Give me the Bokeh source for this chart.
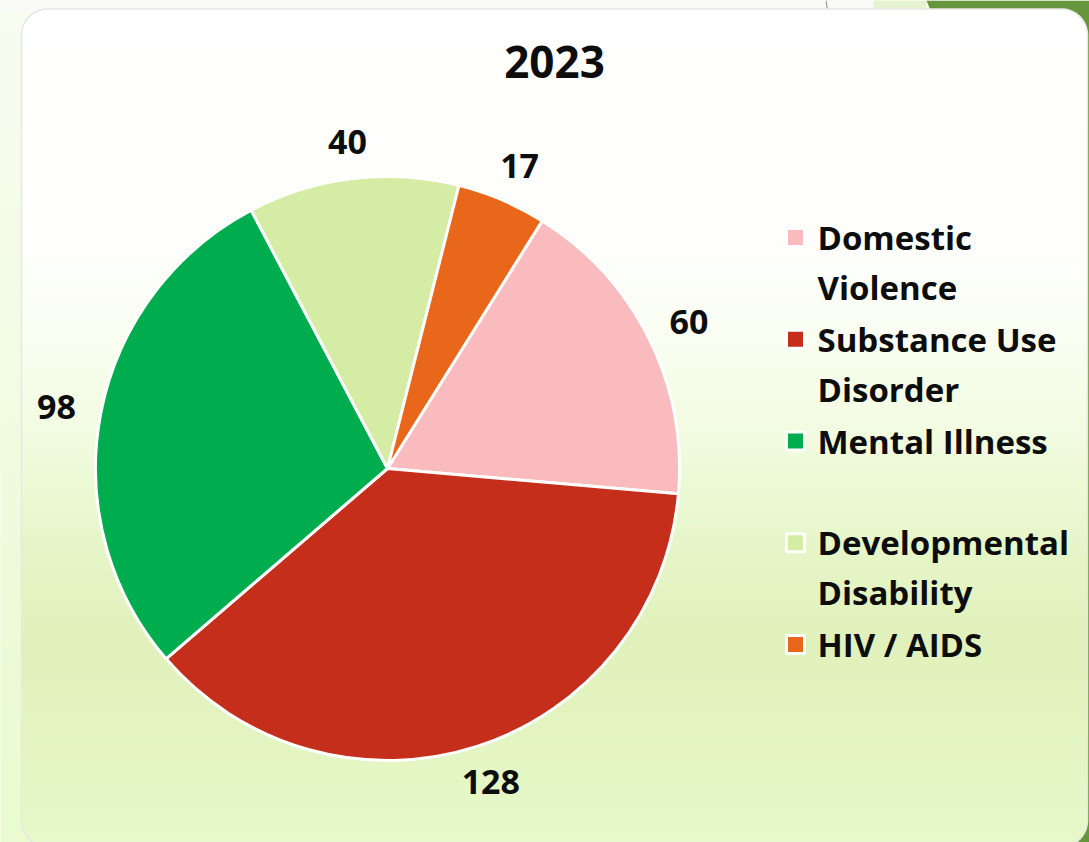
import math
import numpy as np
from bokeh.plotting import figure
from bokeh.models import Range1d, ColumnDataSource
from bokeh.core.properties import value
from bokeh.embed import file_html
from bokeh.resources import INLINE

# ---------------- data ----------------
title_text = "2023"
categories = ["Domestic Violence", "Substance Use Disorder", "Mental Illness",
              "Developmental Disability", "HIV / AIDS"]
counts = [60, 128, 98, 40, 17]
legend_lines = [["Domestic", "Violence"], ["Substance Use", "Disorder"],
                ["Mental Illness"], ["Developmental", "Disability"], ["HIV / AIDS"]]
colors = ["#fabbbf", "#c42e1a", "#00ad4e", "#d5eca4", "#e9671a"]

# ---------------- layout ----------------
W, H = 1089, 842
REF_H = 842
FONT = "Open Sans"
TXT = "#0d0d0d"


def Y(ry):
    return REF_H - ry


p = figure(width=W, height=H, x_range=Range1d(0, W), y_range=Range1d(0, H),
           output_backend="svg", toolbar_location=None, min_border=0)
p.axis.visible = False
p.grid.visible = False
p.outline_line_color = None
p.background_fill_color = "#eefcdc"
p.border_fill_color = "#eefcdc"


def hex2rgb(h):
    h = h.lstrip("#")
    return [int(h[i:i + 2], 16) for i in (0, 2, 4)]


def grad(stops, ry):
    ys = [s[0] for s in stops]
    if ry <= ys[0]:
        return stops[0][1]
    if ry >= ys[-1]:
        return stops[-1][1]
    for (y0, c0), (y1, c1) in zip(stops[:-1], stops[1:]):
        if y0 <= ry <= y1:
            t = (ry - y0) / (y1 - y0)
            a, b = hex2rgb(c0), hex2rgb(c1)
            c = [round(a[i] + (b[i] - a[i]) * t) for i in range(3)]
            return "#%02x%02x%02x" % tuple(c)


# outside background gradient
out_stops = [(0, "#f8fcf2"), (842, "#e9fbcf")]
ob = dict(left=[], right=[], top=[], bottom=[], color=[])
for ry in range(0, 846, 3):
    ob["left"].append(0); ob["right"].append(1100)
    ob["top"].append(Y(ry)); ob["bottom"].append(Y(ry + 3.6))
    ob["color"].append(grad(out_stops, ry + 1.5))
p.quad(source=ColumnDataSource(ob), left="left", right="right", top="top",
       bottom="bottom", fill_color="color", line_color=None)

# top decoration (behind card)
p.quad(left=[0], right=[873], top=[Y(0)], bottom=[Y(10)], fill_color="#fafaf8", line_color=None)
p.quad(left=[873], right=[926], top=[Y(0)], bottom=[Y(10)], fill_color="#e5f3d0", line_color=None)
p.patch(x=[926, 1089, 1089, 1070, 930], y=[Y(0), Y(0), Y(842), Y(842), Y(10)],
        fill_color="#66963c", line_color=None)
p.line(x=[825.5, 827], y=[Y(0), Y(10)], line_color="#9a9a9a", line_width=1.2)

# card with vertical gradient and rounded corners
card_l, card_r, card_t, card_b, rad = 21, 1087, 8.5, 846, 26
card_stops = [(8, "#ffffff"), (250, "#fefffc"), (330, "#fafef2"), (420, "#f3fce3"),
              (500, "#eaf9d2"), (560, "#e5f5c6"), (640, "#e1f1bc"), (700, "#e2f3bf"),
              (842, "#e7f9ca")]
cb = dict(left=[], right=[], top=[], bottom=[], color=[])
step = 2
ry = card_t
while ry < card_b:
    mid = ry + step / 2
    inset = 0.0
    if mid < card_t + rad:
        dy = card_t + rad - mid
        inset = rad - math.sqrt(max(rad * rad - dy * dy, 0))
    elif mid > card_b - rad:
        dy = mid - (card_b - rad)
        inset = rad - math.sqrt(max(rad * rad - dy * dy, 0))
    cb["left"].append(card_l + inset); cb["right"].append(card_r - inset)
    cb["top"].append(Y(ry)); cb["bottom"].append(Y(ry + step + 0.6))
    cb["color"].append(grad(card_stops, mid))
    ry += step
p.quad(source=ColumnDataSource(cb), left="left", right="right", top="top",
       bottom="bottom", fill_color="color", line_color=None)

# card outline
px, py = [], []
corners = [(card_r - rad, card_t + rad, -90, 0), (card_r - rad, card_b - rad, 0, 90),
           (card_l + rad, card_b - rad, 90, 180), (card_l + rad, card_t + rad, 180, 270)]
for (ccx, ccy, a0, a1) in corners:
    for a in np.linspace(a0, a1, 20):
        px.append(ccx + rad * math.cos(math.radians(a)))
        py.append(Y(ccy + rad * math.sin(math.radians(a))))
px.append(px[0]); py.append(py[0])
p.line(px, py, line_color="#e6e8e3", line_width=1.5)

# ---------------- pie ----------------
cx, cy, R = 387, Y(468), 292
start_cw_deg = 32
total = float(sum(counts))
fr = np.array(counts) / total
cum = np.concatenate([[0], np.cumsum(fr)[:-1]])
a_start = math.pi / 2 - math.radians(start_cw_deg) - 2 * math.pi * cum
a_end = a_start - 2 * math.pi * fr
mid = (a_start + a_end) / 2
LRX, LRY = 337, 329
src = ColumnDataSource(dict(
    x=[cx] * len(counts), y=[cy] * len(counts), s=a_end, e=a_start, color=colors,
    lx=cx + LRX * np.cos(mid), ly=cy + LRY * np.sin(mid),
    lab=[str(c) for c in counts], cat=categories))
p.wedge(x="x", y="y", radius=R, start_angle="s", end_angle="e", direction="anticlock",
        fill_color="color", line_color="white", line_width=3, source=src)
p.text(x="lx", y="ly", text="lab", source=src, text_font=value(FONT),
       text_font_style="bold", text_font_size="34px", text_color=TXT,
       text_align="center", text_baseline="middle")

# title
p.text(x=[554], y=[Y(61)], text=[title_text], text_font=value(FONT),
       text_font_style="bold", text_font_size="44px", text_color=TXT,
       text_align="center", text_baseline="middle")

# ---------------- legend ----------------
leg_x_marker, leg_x_text = 795, 817
leg_y0, leg_step, line_step = 237, 101.75, 50
mk = dict(x=[], y=[], color=[])
lt = dict(x=[], y=[], t=[])
for i, lines in enumerate(legend_lines):
    ey = leg_y0 + i * leg_step
    mk["x"].append(leg_x_marker); mk["y"].append(Y(ey)); mk["color"].append(colors[i])
    for k, ln in enumerate(lines):
        lt["x"].append(leg_x_text); lt["y"].append(Y(ey + k * line_step)); lt["t"].append(ln)
p.rect(x="x", y="y", width=18, height=18, fill_color="color", line_color="white",
       line_width=3, source=ColumnDataSource(mk))
p.text(x="x", y="y", text="t", source=ColumnDataSource(lt), text_font=value(FONT),
       text_font_style="bold", text_font_size="33px", text_color=TXT,
       text_align="left", text_baseline="middle")

open("out.html", "w").write(file_html(p, INLINE))
